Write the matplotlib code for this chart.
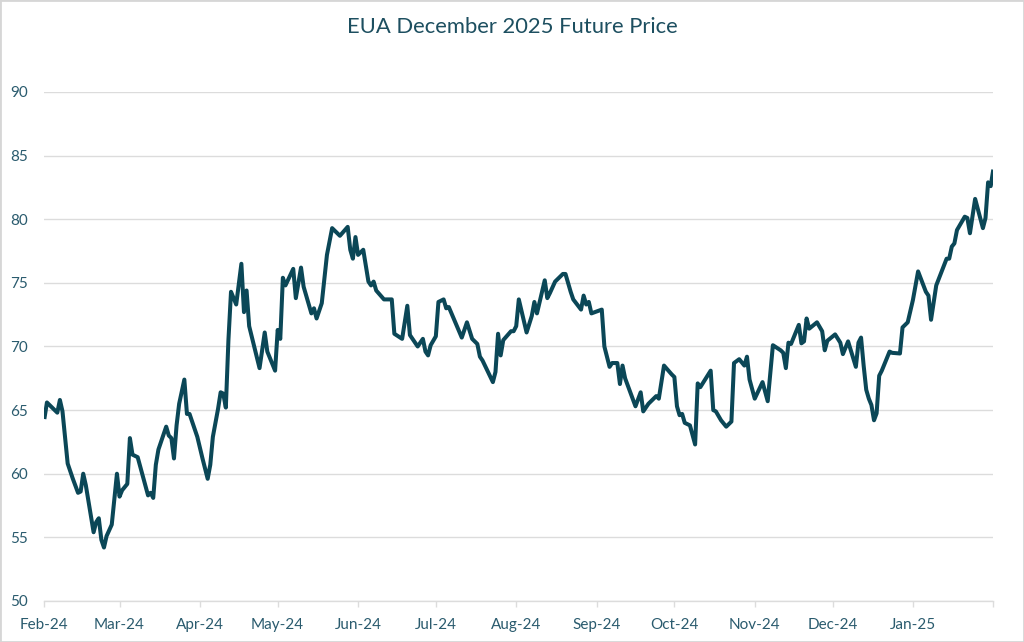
import matplotlib
matplotlib.use("Agg")
import matplotlib.pyplot as plt
import matplotlib.dates as mdates
from matplotlib.patches import Rectangle
import pandas as pd

title = "EUA December 2025 Future Price"

dates = [
    "2024-02-01", "2024-02-02", "2024-02-06", "2024-02-07", "2024-02-08", "2024-02-10",
    "2024-02-12", "2024-02-14", "2024-02-15", "2024-02-16", "2024-02-17", "2024-02-20",
    "2024-02-21", "2024-02-22", "2024-02-23", "2024-02-24", "2024-02-25", "2024-02-27",
    "2024-02-29", "2024-03-01", "2024-03-02", "2024-03-04", "2024-03-05", "2024-03-06",
    "2024-03-08", "2024-03-10", "2024-03-12", "2024-03-13", "2024-03-14", "2024-03-15",
    "2024-03-16", "2024-03-19", "2024-03-20", "2024-03-21", "2024-03-22", "2024-03-23",
    "2024-03-24", "2024-03-26", "2024-03-27", "2024-03-28", "2024-03-31", "2024-04-02",
    "2024-04-04", "2024-04-05", "2024-04-06", "2024-04-08", "2024-04-09", "2024-04-10",
    "2024-04-11", "2024-04-12", "2024-04-13", "2024-04-15", "2024-04-17", "2024-04-18",
    "2024-04-19", "2024-04-20", "2024-04-24", "2024-04-26", "2024-04-27", "2024-04-30",
    "2024-05-01", "2024-05-02", "2024-05-03", "2024-05-04", "2024-05-07", "2024-05-08",
    "2024-05-10", "2024-05-11", "2024-05-14", "2024-05-15", "2024-05-16", "2024-05-18",
    "2024-05-20", "2024-05-22", "2024-05-25", "2024-05-28", "2024-05-29", "2024-05-30",
    "2024-05-31", "2024-06-01", "2024-06-03", "2024-06-05", "2024-06-06", "2024-06-07",
    "2024-06-08", "2024-06-11", "2024-06-14", "2024-06-15", "2024-06-18", "2024-06-20",
    "2024-06-21", "2024-06-24", "2024-06-26", "2024-06-27", "2024-06-28", "2024-06-29",
    "2024-07-01", "2024-07-02", "2024-07-04", "2024-07-05", "2024-07-06", "2024-07-11",
    "2024-07-13", "2024-07-15", "2024-07-17", "2024-07-18", "2024-07-19", "2024-07-23",
    "2024-07-24", "2024-07-25", "2024-07-26", "2024-07-27", "2024-07-30", "2024-07-31",
    "2024-08-01", "2024-08-02", "2024-08-05", "2024-08-07", "2024-08-08", "2024-08-09",
    "2024-08-12", "2024-08-13", "2024-08-14", "2024-08-16", "2024-08-19", "2024-08-20",
    "2024-08-22", "2024-08-23", "2024-08-26", "2024-08-27", "2024-08-28", "2024-08-29",
    "2024-08-30", "2024-09-03", "2024-09-04", "2024-09-06", "2024-09-07", "2024-09-09",
    "2024-09-10", "2024-09-11", "2024-09-12", "2024-09-16", "2024-09-18", "2024-09-19",
    "2024-09-21", "2024-09-24", "2024-09-25", "2024-09-27", "2024-09-30", "2024-10-01",
    "2024-10-02", "2024-10-03", "2024-10-04", "2024-10-05", "2024-10-07", "2024-10-09",
    "2024-10-10", "2024-10-11", "2024-10-15", "2024-10-16", "2024-10-17", "2024-10-19",
    "2024-10-21", "2024-10-23", "2024-10-24", "2024-10-26", "2024-10-28", "2024-10-29",
    "2024-10-30", "2024-11-01", "2024-11-04", "2024-11-06", "2024-11-08", "2024-11-11",
    "2024-11-12", "2024-11-13", "2024-11-14", "2024-11-15", "2024-11-18", "2024-11-19",
    "2024-11-20", "2024-11-21", "2024-11-22", "2024-11-25", "2024-11-27", "2024-11-28",
    "2024-11-29", "2024-12-02", "2024-12-04", "2024-12-05", "2024-12-07", "2024-12-10",
    "2024-12-11", "2024-12-12", "2024-12-13", "2024-12-14", "2024-12-15", "2024-12-16",
    "2024-12-17", "2024-12-18", "2024-12-19", "2024-12-20", "2024-12-23", "2024-12-24",
    "2024-12-27", "2024-12-28", "2024-12-30", "2025-01-01", "2025-01-03", "2025-01-06",
    "2025-01-07", "2025-01-08", "2025-01-10", "2025-01-14", "2025-01-15", "2025-01-16",
    "2025-01-17", "2025-01-18", "2025-01-21", "2025-01-22", "2025-01-23", "2025-01-25",
    "2025-01-28", "2025-01-29", "2025-01-30", "2025-01-31", "2025-02-01",
]

prices = [
    64.3, 65.6, 64.8, 65.8, 64.9, 60.8,
    59.6, 58.5, 58.6, 60.0, 59.1, 55.4,
    56.2, 56.5, 54.8, 54.2, 55.1, 56.0,
    60.0, 58.2, 58.7, 59.2, 62.8, 61.5,
    61.3, 59.8, 58.3, 58.5, 58.1, 60.7,
    61.9, 63.7, 63.0, 62.8, 61.2, 63.8,
    65.5, 67.4, 64.7, 64.7, 62.9, 61.2,
    59.6, 60.7, 62.9, 65.1, 66.4, 66.3,
    65.2, 70.5, 74.3, 73.3, 76.5, 72.7,
    74.4, 71.6, 68.3, 71.1, 69.6, 68.1,
    71.3, 70.6, 75.4, 74.8, 76.1, 73.8,
    76.2, 74.7, 72.6, 73.0, 72.2, 73.4,
    77.2, 79.3, 78.7, 79.4, 77.6, 76.9,
    78.6, 77.2, 77.6, 75.1, 74.8, 75.1,
    74.4, 73.7, 73.7, 71.0, 70.6, 73.2,
    70.9, 70.0, 70.6, 69.6, 69.3, 70.1,
    70.8, 73.5, 73.7, 73.0, 73.1, 70.7,
    71.9, 70.6, 70.2, 69.2, 68.9, 67.2,
    68.0, 71.0, 69.3, 70.5, 71.2, 71.2,
    71.6, 73.7, 71.1, 72.4, 73.5, 72.6,
    75.2, 73.8, 74.2, 75.1, 75.7, 75.7,
    74.3, 73.7, 72.9, 74.0, 73.3, 73.5,
    72.6, 72.9, 70.0, 68.4, 68.7, 68.7,
    67.05, 68.5, 67.5, 65.3, 66.4, 64.9,
    65.5, 66.1, 65.9, 68.5, 67.8, 67.6,
    65.3, 64.6, 64.7, 64.0, 63.8, 62.3,
    67.1, 66.8, 68.1, 65.0, 64.9, 64.2,
    63.7, 64.1, 68.7, 69.0, 68.5, 69.2,
    67.4, 65.9, 67.2, 65.7, 70.1, 69.7,
    69.5, 68.3, 70.3, 70.2, 71.7, 70.25,
    70.4, 72.2, 71.4, 71.9, 71.2, 69.7,
    70.45, 70.95, 70.3, 69.4, 70.4, 68.4,
    70.3, 70.7, 68.5, 66.6, 65.9, 65.4,
    64.2, 64.75, 67.7, 68.1, 69.6, 69.5,
    69.45, 71.5, 71.9, 73.65, 75.9, 74.3,
    74.0, 72.1, 74.8, 76.9, 76.9, 77.85,
    78.1, 79.15, 80.2, 80.1, 78.9, 81.6,
    79.3, 80.1, 82.9, 82.6, 83.9,
]

y_ticks = [50, 55, 60, 65, 70, 75, 80, 85, 90]
x_start = "2024-02-01"
x_end = "2025-02-01"

line_color = "#0b4757"
text_color = "#2a5b6e"
title_color = "#1d4f60"
grid_color = "#dcdcdc"

plt.rcParams["font.family"] = ["Lato", "DejaVu Sans"]

fig = plt.figure(figsize=(10.24, 6.42), dpi=100)
ax = fig.add_axes([0.0433, 0.0639, 0.9267, 0.7928])

x = pd.to_datetime(dates)
ax.plot(x, prices, color=line_color, linewidth=2.9, solid_joinstyle="round",
        solid_capstyle="butt", zorder=3)

ax.set_xlim(pd.Timestamp(x_start), pd.Timestamp(x_end))
ax.set_ylim(y_ticks[0], y_ticks[-1])
ax.set_yticks(y_ticks)
ax.set_yticklabels([str(t) for t in y_ticks])

ax.xaxis.set_major_locator(mdates.MonthLocator())
ax.xaxis.set_major_formatter(mdates.DateFormatter("%b-%y"))

ax.grid(axis="y", color=grid_color, linewidth=1.0, zorder=0)
ax.grid(axis="x", visible=False)
for side in ["top", "right", "left"]:
    ax.spines[side].set_visible(False)
ax.spines["bottom"].set_color(grid_color)
ax.spines["bottom"].set_linewidth(1.0)

ax.tick_params(axis="y", length=0, pad=12, labelsize=11, labelcolor=text_color)
ax.tick_params(axis="x", length=4, width=1, color=grid_color, pad=8,
               labelsize=11, labelcolor=text_color)

fig.canvas.draw()
for lbl in ax.get_xticklabels():
    if lbl.get_text() == "Feb-25":
        lbl.set_visible(False)

fig.text(0.5, 0.958, title, ha="center", va="center", fontsize=15.8, color=title_color)

fig.patches.append(Rectangle((0.0, 0.0), 1.0, 1.0, transform=fig.transFigure,
                             fill=False, edgecolor="#d6d6d6", linewidth=2.0))

fig.savefig("out.png", dpi=100, facecolor="white")
